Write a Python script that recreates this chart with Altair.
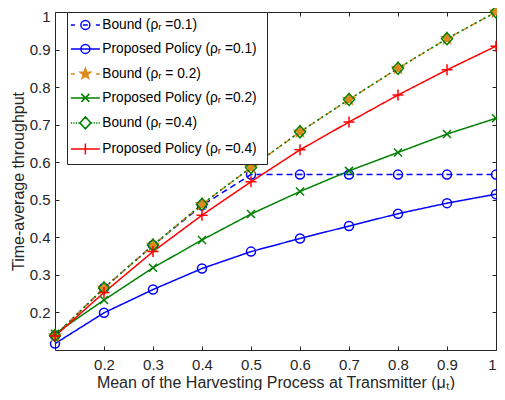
import math
import altair as alt
import pandas as pd

# ---------------- data ----------------
x_vals = [0.1, 0.2, 0.3, 0.4, 0.5, 0.6, 0.7, 0.8, 0.9, 1.0]
bound_01 = [0.138, 0.265, 0.379, 0.485, 0.567, 0.567, 0.567, 0.567, 0.567, 0.567]
policy_01 = [0.117, 0.199, 0.261, 0.317, 0.362, 0.397, 0.430, 0.463, 0.491, 0.515]
bound_02 = [0.138, 0.265, 0.379, 0.488, 0.586, 0.681, 0.767, 0.850, 0.929, 1.000]
policy_02 = [0.143, 0.233, 0.319, 0.393, 0.462, 0.522, 0.577, 0.626, 0.675, 0.717]
bound_04 = [0.138, 0.265, 0.379, 0.488, 0.586, 0.681, 0.767, 0.850, 0.929, 1.000]
policy_04 = [0.137, 0.253, 0.362, 0.459, 0.548, 0.633, 0.707, 0.779, 0.846, 0.909]

series_labels = [
    "Bound (ρᵣ =0.1)",
    "Proposed Policy (ρᵣ =0.1)",
    "Bound (ρᵣ = 0.2)",
    "Proposed Policy (ρᵣ  =0.2)",
    "Bound (ρᵣ =0.4)",
    "Proposed Policy (ρᵣ =0.4)",
]
series_styles = ["dashed", "solid", "dashed", "solid", "dotted", "solid"]
series_values = [bound_01, policy_01, bound_02, policy_02, bound_04, policy_04]
tick_vals = [0.2, 0.3, 0.4, 0.5, 0.6, 0.7, 0.8, 0.9, 1.0]

x_title = "Mean of the Harvesting Process at Transmitter (μₜ)"
y_title = "Time-average throughput"

# ---------------- styles ----------------
BLUE, ORANGE, GREEN, RED = "#0000FF", "#DD8A1E", "#008000", "#FF0000"
colors = [BLUE, BLUE, ORANGE, GREEN, GREEN, RED]
style_domain = ["dashed", "solid", "dotted"]
style_dashes = [[6, 4], [1, 0], [2, 3]]
fills = ["transparent", "transparent", ORANGE, "transparent", "transparent", "transparent"]


def star_path(R, r):
    pts = []
    for i in range(10):
        a = -math.pi / 2 + i * math.pi / 5
        rad = R if i % 2 == 0 else r
        pts.append((rad * math.cos(a), rad * math.sin(a)))
    return "M" + "L".join(f"{px:.3f},{py:.3f}" for px, py in pts) + "Z"


CIRCLE = "M0.9,0A0.9,0.9,0,1,1,-0.9,0A0.9,0.9,0,1,1,0.9,0Z"
STAR = star_path(1.1, 0.45)
XMARK = "M-0.8,-0.8L0.8,0.8M-0.8,0.8L0.8,-0.8"
DIAMOND = "M0,-1.2L1.1,0L0,1.2L-1.1,0Z"
PLUS = "M-1.1,0L1.1,0M0,-1.1L0,1.1"
markers = [CIRCLE, CIRCLE, STAR, XMARK, DIAMOND, PLUS]

SOLID = "M-2.9,0L2.9,0"
DASHED = "M-2.9,0L-2.1,0M-0.5,0L0.5,0M2.1,0L2.9,0"
DOTTED = "".join(f"M{d},0L{d + 0.25},0" for d in [-2.9, -2.4, -1.9, -1.4, 1.15, 1.65, 2.15, 2.65])
legend_syms = [DASHED + CIRCLE, SOLID + CIRCLE, DASHED + STAR,
               SOLID + XMARK, DOTTED + DIAMOND, SOLID + PLUS]

rows = []
for lab, sty, vals in zip(series_labels, series_styles, series_values):
    for xv, yv in zip(x_vals, vals):
        rows.append({"x": xv, "y": yv, "series": lab, "style": sty})
df = pd.DataFrame(rows)

FONT = "Liberation Sans"
xs = alt.Scale(domain=[0.1, 1.0], nice=False, zero=False)
ys = alt.Scale(domain=[0.1, 1.0], nice=False, zero=False)
color_scale = alt.Scale(domain=series_labels, range=colors)
fill_scale = alt.Scale(domain=series_labels, range=fills)

base = alt.Chart(df)

leg = alt.Legend(
    orient="none", legendX=12, legendY=0, title=None, padding=6, rowPadding=8,
    symbolSize=100, symbolStrokeWidth=1.5, symbolOffset=5.5, labelOffset=10,
    symbolOpacity=1,
    labelFont=FONT, labelFontSize=13.75, labelColor="black", labelLimit=400,
    strokeColor="#262626", fillColor="white", direction="vertical",
)

# legend carrier: draws no marks itself, provides the legend and the top/right tick axes
legend_layer = base.transform_filter("false").mark_point(
    size=100, strokeWidth=1.5, filled=False, opacity=1
).encode(
    x=alt.X("x:Q", scale=xs, axis=alt.Axis(
        orient="top", values=tick_vals, labels=False, title=None, domain=False,
        grid=False, offset=-4, tickSize=4)),
    y=alt.Y("y:Q", scale=ys, axis=alt.Axis(
        orient="right", values=tick_vals, labels=False, title=None, domain=False,
        grid=False, offset=-4, tickSize=4)),
    color=alt.Color("series:N", scale=color_scale, legend=leg),
    shape=alt.Shape("series:N", scale=alt.Scale(domain=series_labels, range=legend_syms), legend=leg),
    fill=alt.Fill("series:N", scale=fill_scale, legend=leg),
)

lines = base.mark_line(strokeWidth=1.5, clip=False).encode(
    x=alt.X("x:Q", scale=xs, axis=alt.Axis(
        orient="bottom", values=tick_vals, format="~g", title=x_title,
        offset=-4, tickSize=4, domain=False, grid=False, labelFlush=True,
        labelPadding=7, titlePadding=2)),
    y=alt.Y("y:Q", scale=ys, axis=alt.Axis(
        orient="left", values=tick_vals, format="~g", title=y_title,
        offset=-4, tickSize=4, domain=False, grid=False,
        labelPadding=5, titlePadding=3,
        labelOffset={"condition": {"test": "datum.value >= 1", "value": 4}, "value": 0})),
    color=alt.Color("series:N", scale=color_scale),
    strokeDash=alt.StrokeDash("style:N", scale=alt.Scale(domain=style_domain, range=style_dashes), legend=None),
    detail="series:N",
)

marker_layers = []
for i, lab in enumerate(series_labels):
    enc = dict(
        x=alt.X("x:Q", scale=xs, axis=None),
        y=alt.Y("y:Q", scale=ys, axis=None),
        color=alt.Color("series:N", scale=color_scale),
    )
    if i == 2:
        enc["fill"] = alt.Fill("series:N", scale=fill_scale)
    marker_layers.append(
        base.transform_filter(alt.datum.series == lab)
        .mark_point(shape=markers[i], size=100, strokeWidth=1.5, filled=False, opacity=1, clip=False)
        .encode(**enc)
    )

chart = alt.layer(legend_layer, lines, *marker_layers).properties(
    width=441, height=338,
    padding={"left": 47, "top": 4, "right": 1, "bottom": 40},
    autosize=alt.AutoSizeParams(type="none"),
    background="white",
).configure_view(
    stroke="#262626", strokeWidth=1
).configure_axis(
    labelFont=FONT, labelFontSize=15, labelColor="#262626",
    titleFont=FONT, titleFontSize=16, titleFontWeight="normal", titleColor="#262626",
    tickColor="#262626", tickWidth=1,
)

chart.save("out.html", embed_options={"renderer": "svg", "actions": False})
